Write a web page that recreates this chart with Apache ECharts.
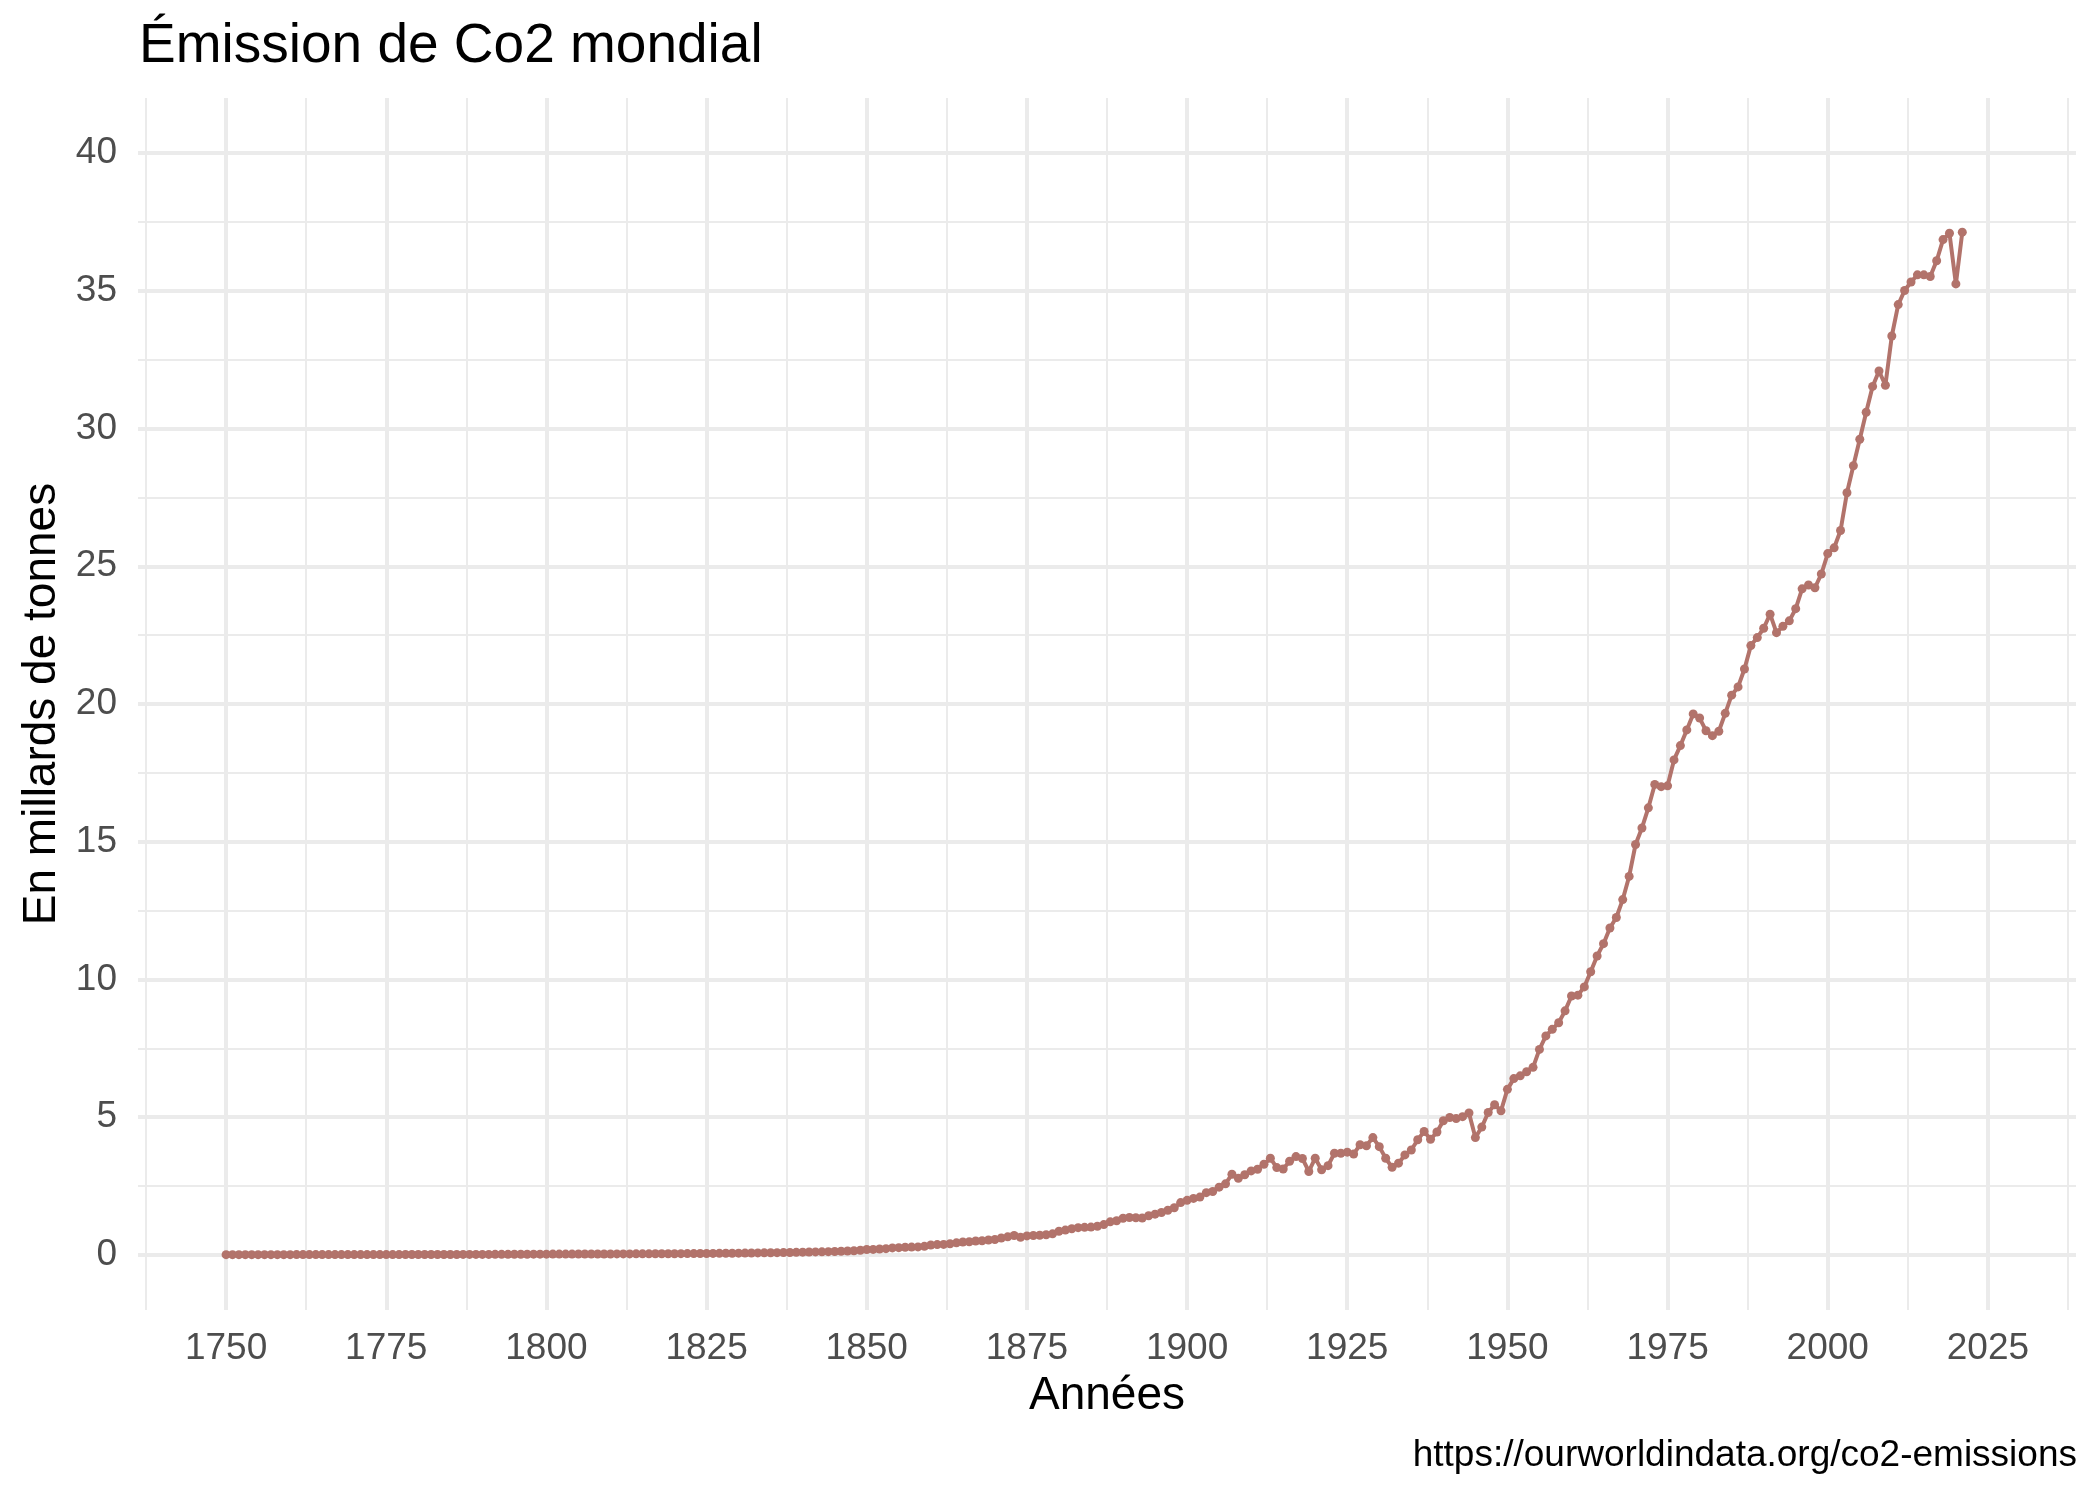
<!DOCTYPE html>
<html>
<head>
<meta charset="utf-8">
<script src="https://cdn.jsdelivr.net/npm/echarts@6/dist/echarts.min.js"></script>
<style>
  html, body { margin: 0; padding: 0; background: #fff; }
  #main { width: 2099px; height: 1499px; }
</style>
</head>
<body>
<div id="main"></div>
<script>
	// Émissions mondiales de CO2 (milliards de tonnes), une valeur par an depuis 1750
	var firstYear = 1750;
	var emissions = [
		0.0094, 0.0094, 0.0095, 0.0095, 0.0095, 0.0096, 0.0098, 0.0098, 0.0099, 0.0101, // 1750
		0.0102, 0.0104, 0.0106, 0.0107, 0.0109, 0.0110, 0.0111, 0.0112, 0.0113, 0.0114, // 1760
		0.0114, 0.0116, 0.0117, 0.0119, 0.0120, 0.0122, 0.0124, 0.0126, 0.0128, 0.0130, // 1770
		0.0130, 0.0136, 0.0142, 0.0148, 0.0152, 0.0157, 0.0163, 0.0170, 0.0176, 0.0180, // 1780
		0.0184, 0.0192, 0.0200, 0.0210, 0.0218, 0.0228, 0.0240, 0.0252, 0.0262, 0.0272, // 1790
		0.0281, 0.0287, 0.0294, 0.0300, 0.0309, 0.0316, 0.0323, 0.0330, 0.0336, 0.0342, // 1800
		0.0348, 0.0355, 0.0364, 0.0372, 0.0381, 0.0390, 0.0398, 0.0408, 0.0418, 0.0426, // 1810
		0.0435, 0.0450, 0.0467, 0.0485, 0.0504, 0.0523, 0.0545, 0.0566, 0.0588, 0.0610, // 1820
		0.0634, 0.0660, 0.0688, 0.0717, 0.0748, 0.0780, 0.0812, 0.0845, 0.0880, 0.0920, // 1830
		0.0994, 0.1040, 0.1080, 0.1120, 0.1170, 0.1250, 0.1320, 0.1400, 0.1500, 0.1690, // 1840
		0.197, 0.200, 0.214, 0.228, 0.253, 0.262, 0.278, 0.283, 0.290, 0.312,           // 1850
		0.361, 0.375, 0.380, 0.405, 0.437, 0.468, 0.478, 0.504, 0.515, 0.540,           // 1860
		0.560, 0.612, 0.655, 0.705, 0.640, 0.690, 0.705, 0.715, 0.730, 0.765,           // 1870
		0.860, 0.900, 0.950, 0.990, 1.000, 1.010, 1.040, 1.100, 1.200, 1.240,           // 1880
		1.330, 1.360, 1.350, 1.340, 1.420, 1.480, 1.540, 1.620, 1.710, 1.900,           // 1890
		1.980, 2.050, 2.100, 2.260, 2.300, 2.460, 2.580, 2.930, 2.780, 2.910,           // 1900
		3.050, 3.110, 3.290, 3.510, 3.170, 3.120, 3.400, 3.570, 3.500, 3.030,           // 1910
		3.510, 3.090, 3.240, 3.690, 3.690, 3.730, 3.660, 4.000, 3.960, 4.260,           // 1920
		3.930, 3.510, 3.180, 3.330, 3.630, 3.810, 4.180, 4.480, 4.200, 4.460,           // 1930
		4.870, 4.990, 4.950, 5.020, 5.150, 4.260, 4.640, 5.170, 5.450, 5.230,           // 1940
		6.010, 6.400, 6.500, 6.650, 6.810, 7.460, 7.950, 8.190, 8.430, 8.860,           // 1950
		9.400, 9.430, 9.730, 10.280, 10.850, 11.300, 11.870, 12.250, 12.900, 13.740,    // 1960
		14.900, 15.500, 16.230, 17.080, 17.000, 17.030, 17.970, 18.490, 19.060, 19.640, // 1970
		19.490, 19.030, 18.850, 19.010, 19.660, 20.320, 20.620, 21.270, 22.120, 22.410, // 1980
		22.750, 23.260, 22.590, 22.820, 23.020, 23.460, 24.180, 24.320, 24.220, 24.720, // 1990
		25.460, 25.670, 26.300, 27.670, 28.650, 29.610, 30.590, 31.530, 32.090, 31.570, // 2000
		33.360, 34.500, 35.010, 35.320, 35.580, 35.580, 35.520, 36.090, 36.860, 37.090, // 2010
		35.250, 37.130                                                                  // 2020
	];

	var xMajor = [1750, 1775, 1800, 1825, 1850, 1875, 1900, 1925, 1950, 1975, 2000, 2025];
	var xMinor = [1737.5, 1762.5, 1787.5, 1812.5, 1837.5, 1862.5, 1887.5, 1912.5, 1937.5, 1962.5, 1987.5, 2012.5, 2037.5];
	var yMajor = [0, 5, 10, 15, 20, 25, 30, 35, 40];
	var yMinor = [2.5, 7.5, 12.5, 17.5, 22.5, 27.5, 32.5, 37.5];

	var points = [];
	for (var i = 0; i < emissions.length; i++) {
		points.push([firstYear + i, emissions[i]]);
	}

	var font = 'Liberation Sans, Arial, sans-serif';
	var gridColor = '#EBEBEB';
	var lineColor = '#B2736B';
	// limites façon ggplot (expansion de 5 %)
	var xMin = 1736.25, xMax = 2038.75;
	var yMin = -2, yMax = 42;

	var myChart = echarts.init(document.getElementById('main'));
	var option = {
		animation: false,
		backgroundColor: '#fff',
		title: [
			{
				text: 'Émission de Co2 mondial',
				left: 134,
				top: 14,
				textStyle: { fontFamily: font, fontSize: 55, fontWeight: 'normal', color: '#000' }
			},
			{
				text: 'https://ourworldindata.org/co2-emissions',
				right: 17,
				top: 1432,
				textStyle: { fontFamily: font, fontSize: 37, fontWeight: 'normal', color: '#000' }
			}
		],
		grid: { left: 138, right: 23, top: 98, bottom: 189 },
		xAxis: [
			{
				type: 'value', min: xMin, max: xMax,
				name: 'Années', nameLocation: 'middle', nameGap: 63,
				nameTextStyle: { fontFamily: font, fontSize: 46, color: '#000' },
				axisLine: { show: false },
				axisTick: { show: false, customValues: xMajor },
				axisLabel: {
					customValues: xMajor, margin: 20, fontFamily: font, fontSize: 37, color: '#4D4D4D',
					formatter: function (v) { return String(v); }
				},
				splitLine: { show: true, lineStyle: { color: gridColor, width: 4 } }
			},
			{
				type: 'value', min: xMin, max: xMax,
				axisLine: { show: false },
				axisTick: { show: false, customValues: xMinor },
				axisLabel: { show: false, customValues: xMinor },
				splitLine: { show: true, lineStyle: { color: gridColor, width: 2 } }
			}
		],
		yAxis: [
			{
				type: 'value', min: yMin, max: yMax,
				name: 'En millards de tonnes', nameLocation: 'middle', nameGap: 72,
				nameTextStyle: { fontFamily: font, fontSize: 46, color: '#000' },
				axisLine: { show: false },
				axisTick: { show: false, customValues: yMajor },
				axisLabel: { customValues: yMajor, margin: 21, fontFamily: font, fontSize: 37, color: '#4D4D4D' },
				splitLine: { show: true, lineStyle: { color: gridColor, width: 4 } }
			},
			{
				type: 'value', min: yMin, max: yMax,
				axisLine: { show: false },
				axisTick: { show: false, customValues: yMinor },
				axisLabel: { show: false, customValues: yMinor },
				splitLine: { show: true, lineStyle: { color: gridColor, width: 2 } }
			}
		],
		series: [
			{
				type: 'line',
				data: points,
				xAxisIndex: 0,
				yAxisIndex: 0,
				symbol: 'circle',
				symbolSize: 9,
				showAllSymbol: true,
				itemStyle: { color: lineColor },
				lineStyle: { color: lineColor, width: 4 }
			}
		]
	};
	myChart.setOption(option);
</script>
</body>
</html>
